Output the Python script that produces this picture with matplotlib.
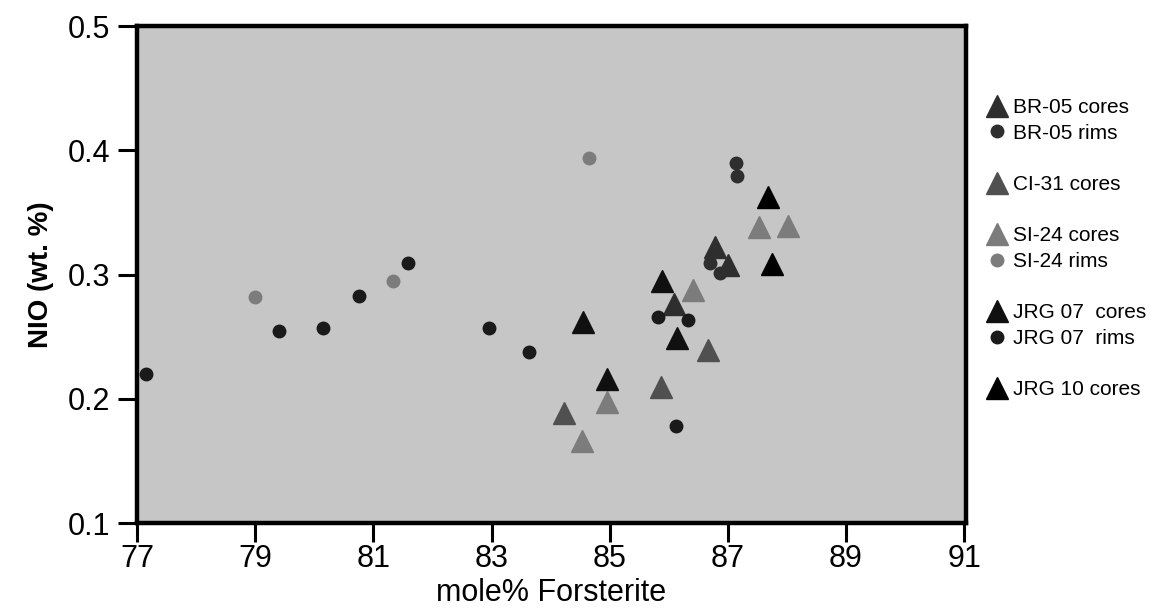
import matplotlib
matplotlib.use('Agg')
import matplotlib.pyplot as plt
from matplotlib.lines import Line2D

plt.rcParams['font.family'] = ['Liberation Sans', 'DejaVu Sans']

# Olivine cores (triangles) and rims (circles): mole% Fo vs NiO wt.%
br05_cores_fo = [86.79, 87.00, 86.09]
br05_cores_ni = [0.322, 0.308, 0.276]
br05_rims_fo = [87.14, 87.16, 86.70, 86.87]
br05_rims_ni = [0.390, 0.379, 0.309, 0.301]

ci31_cores_fo = [86.67, 84.23, 85.87]
ci31_cores_ni = [0.239, 0.1885, 0.2095]

si24_cores_fo = [87.53, 88.02, 86.41, 84.96, 84.53]
si24_cores_ni = [0.338, 0.339, 0.2875, 0.1974, 0.166]
si24_rims_fo = [79.00, 81.33, 84.65]
si24_rims_ni = [0.282, 0.295, 0.394]

jrg07_cores_fo = [85.89, 84.55, 86.14, 84.96]
jrg07_cores_ni = [0.295, 0.262, 0.249, 0.216]
jrg07_rims_fo = [77.15, 79.40, 80.15, 80.76, 81.59, 82.96, 83.64, 85.82, 86.33, 86.12]
jrg07_rims_ni = [0.220, 0.2545, 0.257, 0.283, 0.309, 0.257, 0.238, 0.266, 0.263, 0.178]

jrg10_cores_fo = [87.68, 87.75]
jrg10_cores_ni = [0.362, 0.3085]

xticks = [77, 79, 81, 83, 85, 87, 89, 91]
yticks = [0.1, 0.2, 0.3, 0.4, 0.5]

series = [
    ('BR-05 cores', br05_cores_fo, br05_cores_ni, '^', '#2e2e2e'),
    ('BR-05 rims', br05_rims_fo, br05_rims_ni, 'o', '#2e2e2e'),
    ('CI-31 cores', ci31_cores_fo, ci31_cores_ni, '^', '#505050'),
    ('SI-24 cores', si24_cores_fo, si24_cores_ni, '^', '#7c7c7c'),
    ('SI-24 rims', si24_rims_fo, si24_rims_ni, 'o', '#7c7c7c'),
    ('JRG 07  cores', jrg07_cores_fo, jrg07_cores_ni, '^', '#101010'),
    ('JRG 07  rims', jrg07_rims_fo, jrg07_rims_ni, 'o', '#1a1a1a'),
    ('JRG 10 cores', jrg10_cores_fo, jrg10_cores_ni, '^', '#000000'),
]

fig = plt.figure(figsize=(11.61, 6.12), dpi=100)
ax = fig.add_axes([0.118, 0.1454, 0.714, 0.8121])
ax.set_facecolor('#c6c6c6')

handles = {}
for label, xs, ys, marker, color in series:
    size = 16 if marker == '^' else 9
    h, = ax.plot(xs, ys, linestyle='none', marker=marker, markersize=size,
                 color=color, markeredgecolor=color, label=label)
    handles[label] = h

ax.set_xlim(77, 91.03)
ax.set_ylim(0.1, 0.5)
ax.set_xticks(xticks)
ax.set_xticklabels([str(t) for t in xticks])
ax.set_yticks(yticks)
ax.set_yticklabels([f'{t:.1f}' for t in yticks])

for s in ax.spines.values():
    s.set_linewidth(3.2)
ax.tick_params(direction='out', length=14, width=2.2, labelsize=22, pad=5)
ax.tick_params(axis='x', pad=1)

ax.set_xlabel('mole% Forsterite', fontsize=22, labelpad=3)
ax.set_ylabel('NIO (wt. %)', fontsize=20, fontweight='bold', labelpad=10)

# legend with blank rows between sample groups
blank = Line2D([], [], linestyle='none', marker='None')
order = ['BR-05 cores', 'BR-05 rims', None, 'CI-31 cores', None,
         'SI-24 cores', 'SI-24 rims', None, 'JRG 07  cores', 'JRG 07  rims',
         None, 'JRG 10 cores']
leg_h = [handles[k] if k else blank for k in order]
leg_l = [k if k else ' ' for k in order]
fig.legend(leg_h, leg_l, loc='upper left',
           bbox_to_anchor=(988 / 1161, 1 - 98 / 612),
           frameon=False, fontsize=15, handlelength=0.9, handletextpad=0.3,
           labelspacing=0.32, borderpad=0, borderaxespad=0, markerscale=1.0)

fig.savefig('out.png', dpi=100)
